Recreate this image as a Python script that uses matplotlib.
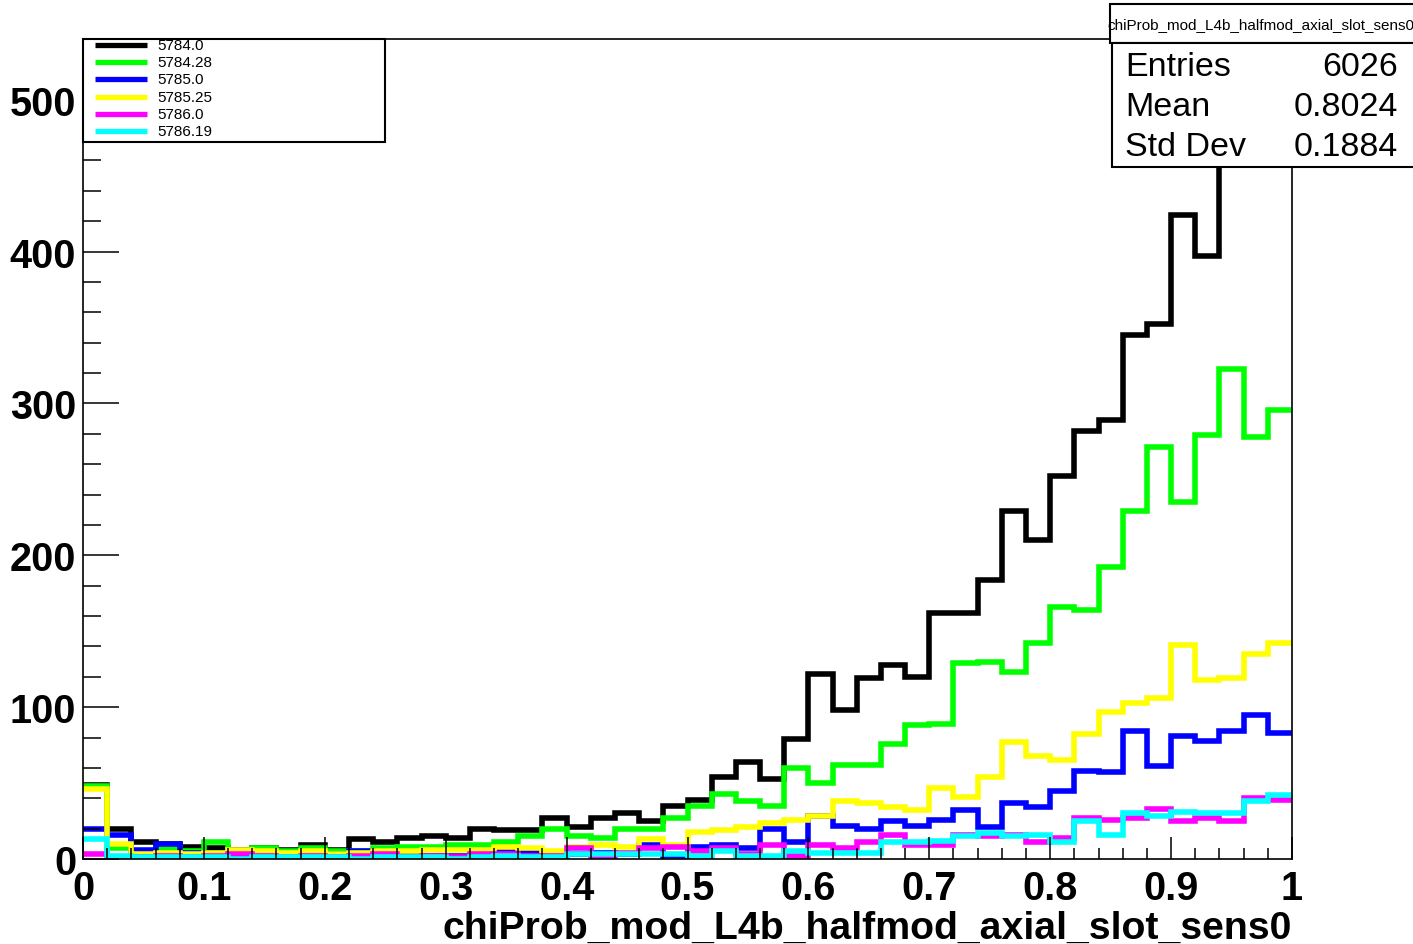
import matplotlib
matplotlib.use("Agg")
import matplotlib.pyplot as plt
import numpy as np
from matplotlib.ticker import MultipleLocator, FuncFormatter
from matplotlib.patches import Rectangle

plt.rcParams['font.family'] = ['Liberation Sans', 'DejaVu Sans']

# 50 bins from 0 to 1
edges = np.linspace(0, 1, 51)

run_labels = ["5784.0", "5784.28", "5785.0", "5785.25", "5786.0", "5786.19"]
run_colors = ["#000000", "#00ff00", "#0000ff", "#ffff00", "#ff00ff", "#00ffff"]

counts_5784_0 = [49, 20, 11, 10, 8, 7, 6, 7, 6, 9,
                 6, 13, 11, 14, 15, 14, 20, 19, 19, 27,
                 21, 27, 30, 25, 35, 39, 54, 64, 53, 79,
                 122, 98, 119, 128, 120, 162, 162, 184, 229, 210,
                 252, 282, 289, 345, 352, 424, 397, 500, 468, 463]
counts_5784_28 = [48, 7, 4, 7, 5, 11, 5, 7, 5, 7,
                  5, 5, 7, 8, 8, 9, 9, 11, 15, 20,
                  15, 14, 20, 20, 27, 35, 43, 38, 35, 60,
                  50, 62, 62, 76, 88, 89, 129, 130, 123, 142,
                  166, 164, 192, 229, 271, 235, 279, 323, 278, 296]
counts_5785_0 = [20, 16, 6, 10, 4, 3, 3, 2, 2, 2,
                 3, 5, 2, 3, 2, 2, 4, 5, 5, 2,
                 3, 4, 3, 9, 2, 8, 9, 7, 20, 11,
                 28, 22, 20, 25, 22, 26, 32, 21, 37, 34,
                 45, 58, 57, 84, 61, 81, 78, 84, 95, 83]
counts_5785_25 = [46, 10, 3, 4, 3, 4, 6, 5, 4, 5,
                  3, 4, 5, 5, 6, 6, 6, 8, 7, 5,
                  8, 9, 8, 13, 9, 18, 19, 21, 24, 26,
                  28, 38, 37, 34, 32, 47, 41, 54, 77, 68,
                  65, 82, 97, 103, 106, 141, 118, 119, 135, 142]
counts_5786_0 = [3, 1, 1, 2, 1, 2, 3, 2, 1, 2,
                 1, 2, 3, 1, 2, 1, 3, 3, 2, 2,
                 7, 1, 4, 7, 8, 5, 7, 3, 9, 2,
                 9, 7, 11, 16, 9, 9, 16, 15, 16, 11,
                 14, 27, 26, 27, 33, 25, 27, 25, 40, 39]
counts_5786_19 = [13, 2, 1, 1, 1, 1, 0, 1, 1, 1,
                  1, 0, 1, 1, 1, 0, 1, 2, 1, 1,
                  3, 3, 3, 3, 3, 2, 5, 2, 2, 5,
                  4, 4, 4, 11, 11, 12, 15, 17, 15, 16,
                  11, 25, 16, 30, 28, 31, 30, 30, 38, 42]

all_counts = [counts_5784_0, counts_5784_28, counts_5785_0,
              counts_5785_25, counts_5786_0, counts_5786_19]

stat_names = ["Entries", "Mean", "Std Dev"]
stat_values = ["6026", "0.8024", "0.1884"]
hist_name = "chiProb_mod_L4b_halfmod_axial_slot_sens0"

W, H = 1413, 945
fig = plt.figure(figsize=(W / 100, H / 100), dpi=100)
ax = fig.add_axes([83 / W, 1 - 860 / H, (1292 - 83) / W, (860 - 40) / H])

for counts, col in zip(all_counts, run_colors):
    ax.stairs(counts, edges, color=col, linewidth=4.0, baseline=None)

ax.set_xlim(0, 1)
ax.set_ylim(0, 540)

ax.xaxis.set_major_locator(MultipleLocator(0.1))
ax.xaxis.set_minor_locator(MultipleLocator(0.02))
ax.yaxis.set_major_locator(MultipleLocator(100))
ax.yaxis.set_minor_locator(MultipleLocator(20))
ax.xaxis.set_major_formatter(FuncFormatter(lambda v, p: f"{v:g}"))
ax.yaxis.set_major_formatter(FuncFormatter(lambda v, p: f"{v:g}"))

ax.tick_params(axis='x', which='major', direction='in', length=16, width=1.1,
               pad=7, labelsize=28.5)
ax.tick_params(axis='x', which='minor', direction='in', length=8, width=1.1)
ax.tick_params(axis='y', which='major', direction='in', length=26, width=1.1,
               pad=5, labelsize=28.5)
ax.tick_params(axis='y', which='minor', direction='in', length=13, width=1.1)
for lab in ax.get_xticklabels() + ax.get_yticklabels():
    lab.set_fontweight('bold')
for sp in ax.spines.values():
    sp.set_linewidth(1.2)

ax.set_xlabel(hist_name, fontsize=28.3, fontweight='bold', loc='right', labelpad=2)

# overlay in pixel coordinates for legend and stats box
ov = fig.add_axes([0, 0, 1, 1], zorder=5)
ov.set_xlim(0, W)
ov.set_ylim(H, 0)
ov.axis('off')

ov.add_patch(Rectangle((83, 40), 302, 103, facecolor='white', edgecolor='black', lw=1.5))
for i, (lab, col) in enumerate(zip(run_labels, run_colors)):
    yy = 46 + 17.2 * i
    ov.plot([95, 147], [yy, yy], color=col, lw=3.8, solid_capstyle='butt')
    ov.text(157, yy, lab, fontsize=11, va='center', ha='left')

ov.add_patch(Rectangle((1110, 5), 330, 39, facecolor='white', edgecolor='black', lw=1.5))
ov.text(1261, 25, hist_name, fontsize=11, ha='center', va='center')
ov.add_patch(Rectangle((1112, 44), 330, 124, facecolor='white', edgecolor='black', lw=1.5))
for i, (nm, val) in enumerate(zip(stat_names, stat_values)):
    yy = 67 + 40 * i
    ov.text(1125, yy, nm, fontsize=24.5, ha='left', va='center')
    ov.text(1398, yy, val, fontsize=24.5, ha='right', va='center')

fig.savefig("out.png", dpi=100)
